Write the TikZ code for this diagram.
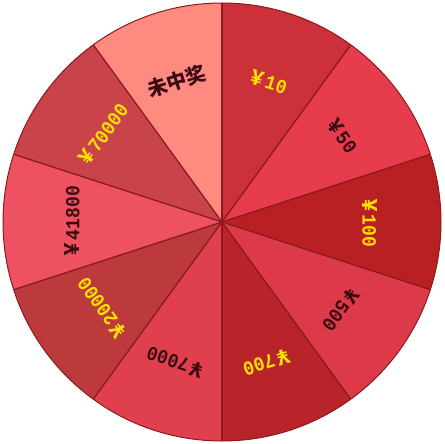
\documentclass[tikz,border=0pt]{standalone}
\usepackage{fontspec}
\setmonofont{Liberation Mono}
\newfontfamily\cjk{Noto Sans CJK SC}
\definecolor{cA}{HTML}{CC3038}
\definecolor{cB}{HTML}{E63C4C}
\definecolor{cC}{HTML}{B82024}
\definecolor{cD}{HTML}{DC3A48}
\definecolor{cE}{HTML}{B8242A}
\definecolor{cF}{HTML}{E0404E}
\definecolor{cG}{HTML}{BC3A3C}
\definecolor{cH}{HTML}{EE5262}
\definecolor{cI}{HTML}{C8444A}
\definecolor{cJ}{HTML}{FF8A80}
\definecolor{labyellow}{HTML}{FFE000}
\definecolor{labdark}{HTML}{3A0A12}
\definecolor{edgered}{HTML}{8C1A1E}
\newcommand{\money}[1]{\scalebox{0.9}[1]{{\cjk\bfseries ￥}#1}}
\begin{document}
\begin{tikzpicture}[x=1pt,y=1pt,
  lab/.style={font=\ttfamily\bfseries\fontsize{20}{20}\selectfont, inner sep=0pt},
  ylab/.style={lab,text=labyellow},
  dlab/.style={lab,text=labdark},
  cjklab/.style={font=\cjk\bfseries\fontsize{20}{20}\selectfont, inner sep=0pt, text=labdark},
  spoke/.style={draw=edgered,line width=1.3pt},
  rim/.style={draw=edgered,line width=1pt}]
\useasboundingbox (-222,-222) rectangle (222,222);
\coordinate (O) at (0,0);
\foreach \k/\c in {0/cA,1/cB,2/cC,3/cD,4/cE,5/cF,6/cG,7/cH,8/cI,9/cJ}{
  \pgfmathsetmacro{\sa}{90-36*\k}
  \pgfmathsetmacro{\ea}{54-36*\k}
  \fill[\c] (O) -- (\sa:219) arc[start angle=\sa, end angle=\ea, radius=219] -- cycle;
}
\foreach \k in {0,...,9}{
  \coordinate (b\k) at (90-36*\k:219);
  \draw[spoke] (O) -- (b\k);
}
\draw[rim] (O) circle[radius=219];
\node[ylab,rotate=-18]  (l1)  at (72:148)   {\money{10}};
\node[dlab,rotate=-54]  (l2)  at (36:148)   {\money{50}};
\node[ylab,rotate=-90]  (l3)  at (0:148)    {\money{100}};
\node[dlab,rotate=-126] (l4)  at (-36:148)  {\money{500}};
\node[ylab,rotate=-162] (l5)  at (-72:148)  {\money{700}};
\node[dlab,rotate=-198] (l6)  at (-108:148) {\money{7000}};
\node[ylab,rotate=-234] (l7)  at (-144:148) {\money{20000}};
\node[dlab,rotate=90]   (l8)  at (180:150)  {\money{41800}};
\node[ylab,rotate=54]   (l9)  at (144:148)  {\money{70000}};
\node[cjklab,rotate=18] (l10) at (108:148)  {未中奖};
\end{tikzpicture}
\end{document}
